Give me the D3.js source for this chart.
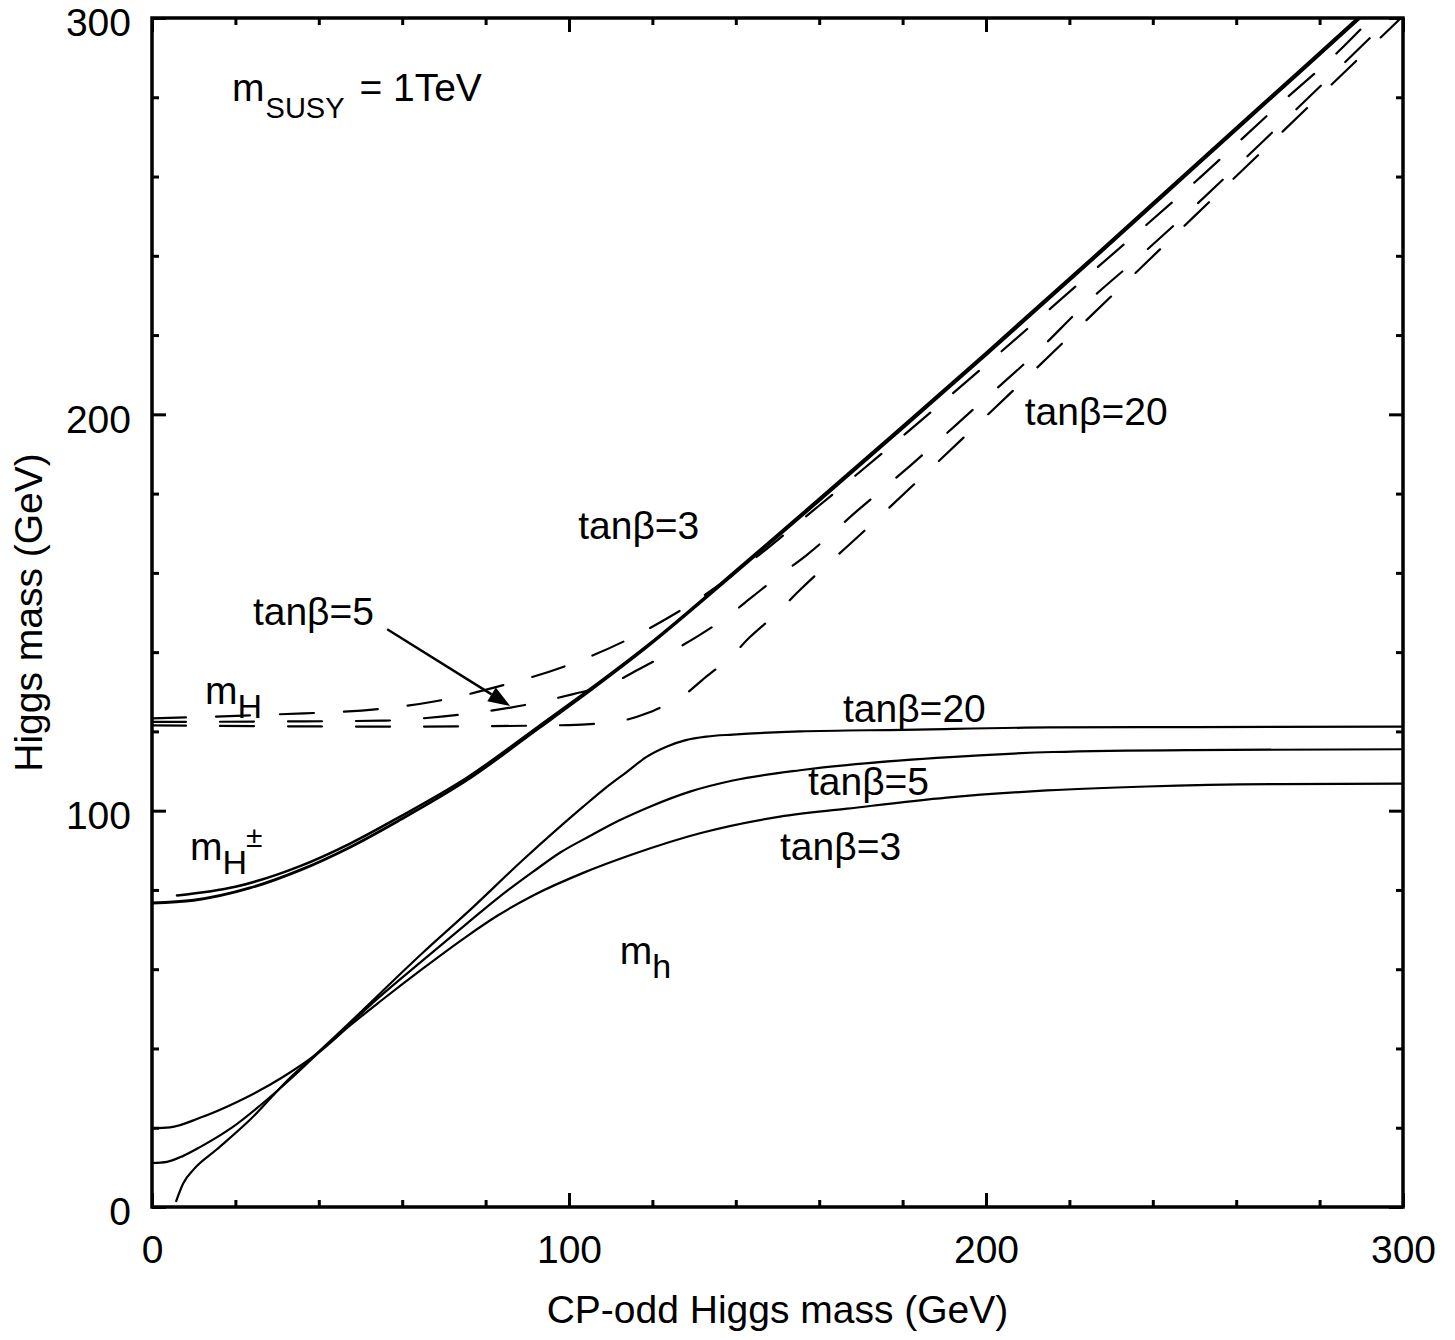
<!DOCTYPE html>
<html><head><meta charset="utf-8">
<script src="https://cdn.jsdelivr.net/npm/d3@7"></script>
<style>
body{margin:0;background:#fff}
text{font-family:"Liberation Sans",Arial,Helvetica,sans-serif;fill:#000}
</style>
</head><body>
<svg id="chart" width="1455" height="1340"></svg>
<script>
// ---------- data ----------
const xMajorTicks = [0, 100, 200, 300];
const yMajorTicks = [0, 100, 200, 300];
const minorTicks  = [20, 40, 60, 80, 120, 140, 160, 180, 220, 240, 260, 280];
const xTickLabels = ["0", "100", "200", "300"];
const yTickLabels = ["0", "100", "200", "300"];

// charged Higgs mass m_H± (solid, heavy) – two nearly coincident lines
const mHpmTan20 = [[0,76.7],[10,77.4],[23.5,80.5],[35.5,85],[47.5,90.8],[59.5,97.7],[75.5,107.7],[93,121],[104.3,129.7],[118.7,141.3],[141.5,161.5],[160,178.2],[180,196.5],[200,215],[225,238.5],[250,262.3],[270,281.3],[290,300.3],[300,310]];
const mHpmTan3  = [[6,78.6],[20,80.8],[35.5,86],[47.5,91.7],[59.5,98.5],[75.5,108.3],[93,121.5],[104.3,130.1],[118.7,141.6],[141.5,161.9],[160,178.7],[180,197],[200,215.5],[225,239],[250,262.8],[270,281.8],[290,300.8],[300,310.5]];

// heavy CP-even m_H (dashed)
const mHTan3  = [[0,123.3],[30,124.3],[55,125.7],[68,127.6],[84,131.6],[100,136.8],[116,144.2],[129,152],[140,160],[160,177],[180,194.5],[200,212.5],[225,235.5],[250,258.5],[271,278.8],[283.7,290.7],[292.5,300]];
const mHTan5  = [[0,122.4],[30,122.5],[55,122.7],[70,123.8],[86,126],[101,129.4],[110,132],[117,135.8],[124,139.8],[131,144.1],[138,149],[144,154],[150,159],[157,164.5],[169.5,176],[182,187.2],[197,201.3],[212.5,216],[224,228],[237,240],[249,251.5],[270,272.5],[297,300]];
const mHTan20 = [[0,121.5],[60,121.2],[100,121.6],[108,122.1],[114,123],[119,124.7],[122.5,126.3],[126,128],[129,130.3],[132,133],[135,135.5],[138,138],[143.4,143.8],[149.4,149.4],[155,155.3],[170,169.8],[200,199.5],[250,250],[300,300.5]];

// light CP-even m_h (solid, thin)
const mhTan20 = [[5.8,1.5],[7.5,6],[10,9.5],[15.5,14.5],[23.5,22],[33,32.5],[40,39.2],[47.5,46.6],[55,54.2],[65,64.2],[75.5,74.2],[89,87.6],[103.4,101],[108.5,105.5],[113.9,109.8],[118.5,113.5],[123.5,116.2],[128,117.8],[133,118.7],[139.3,119.2],[155.4,120],[180,120.4],[215,121],[250,121.1],[300,121.2]];
const mhTan5  = [[0,11.1],[3.6,11.4],[7.5,12.9],[11.5,15.1],[19.4,20.2],[27.5,27],[34.8,33.8],[40,39],[47.5,46.2],[54,52.5],[65,62.3],[75.5,71.5],[83,78],[91.4,84.6],[98,89.5],[105,93.6],[112,97.5],[119.4,101],[129,104.8],[139.3,107.6],[155.4,110.2],[161,110.9],[188.2,113.3],[216,114.8],[249,115.3],[300,115.5]];
const mhTan3  = [[0,19.9],[4.3,20.1],[11.5,22.5],[20.4,26.5],[31.4,32.8],[40,39],[47.5,45.8],[55,52.1],[65,60.2],[75.5,68.3],[83,73.6],[91.4,78.6],[103.4,84.3],[115.3,89],[131.4,94.3],[150.6,98.5],[166.7,100.5],[190.6,103.3],[214.6,105.1],[238.6,106.1],[270.5,106.7],[300,106.8]];

// ---------- layout ----------
const W = 1455, H = 1340;
const M = {left:152, right:52, top:18, bottom:133};
const FONT = 39;

const svg = d3.select("#chart");
const x = d3.scaleLinear().domain([0,300]).range([M.left, W - M.right]);
const y = d3.scaleLinear().domain([0,300]).range([H - M.bottom, M.top]);

svg.append("defs").append("clipPath").attr("id","clip")
  .append("rect").attr("x",x(0)).attr("y",y(300)).attr("width",x(300)-x(0)).attr("height",y(0)-y(300));

// ---------- axes / ticks on all four sides ----------
function styleAxis(g){ g.select(".domain").remove(); g.selectAll("line").attr("stroke","#000").attr("stroke-width",3); }

svg.append("g").attr("transform",`translate(0,${y(0)})`)
  .call(d3.axisBottom(x).tickValues(xMajorTicks).tickSizeInner(-14).tickSizeOuter(0).tickPadding(28)
        .tickFormat((d,i)=>xTickLabels[i]))
  .call(styleAxis)
  .call(g=>g.selectAll("text").attr("font-size",FONT).attr("font-family",null));
svg.append("g").attr("transform",`translate(0,${y(0)})`)
  .call(d3.axisBottom(x).tickValues(minorTicks).tickSizeInner(-7).tickSizeOuter(0).tickFormat(""))
  .call(styleAxis);
svg.append("g").attr("transform",`translate(0,${y(300)})`)
  .call(d3.axisTop(x).tickValues(xMajorTicks).tickSizeInner(-14).tickSizeOuter(0).tickFormat(""))
  .call(styleAxis);
svg.append("g").attr("transform",`translate(0,${y(300)})`)
  .call(d3.axisTop(x).tickValues(minorTicks).tickSizeInner(-7).tickSizeOuter(0).tickFormat(""))
  .call(styleAxis);

svg.append("g").attr("transform",`translate(${x(0)},0)`)
  .call(d3.axisLeft(y).tickValues(yMajorTicks).tickSizeInner(-14).tickSizeOuter(0).tickPadding(21)
        .tickFormat((d,i)=>yTickLabels[i]))
  .call(styleAxis)
  .call(g=>g.selectAll("text").attr("font-size",FONT).attr("font-family",null).attr("dy","0.46em"));
svg.append("g").attr("transform",`translate(${x(0)},0)`)
  .call(d3.axisLeft(y).tickValues(minorTicks).tickSizeInner(-7).tickSizeOuter(0).tickFormat(""))
  .call(styleAxis);
svg.append("g").attr("transform",`translate(${x(300)},0)`)
  .call(d3.axisRight(y).tickValues(yMajorTicks).tickSizeInner(-14).tickSizeOuter(0).tickFormat(""))
  .call(styleAxis);
svg.append("g").attr("transform",`translate(${x(300)},0)`)
  .call(d3.axisRight(y).tickValues(minorTicks).tickSizeInner(-7).tickSizeOuter(0).tickFormat(""))
  .call(styleAxis);

// frame
svg.append("rect").attr("x",x(0)).attr("y",y(300)).attr("width",x(300)-x(0)).attr("height",y(0)-y(300))
  .attr("fill","none").attr("stroke","#000").attr("stroke-width",3.5);

// ---------- curves ----------
const line = d3.line().x(d=>x(d[0])).y(d=>y(d[1])).curve(d3.curveMonotoneX);
const plot = svg.append("g").attr("clip-path","url(#clip)");

const series = [
  {data:mhTan20, w:2.2, dash:null},
  {data:mhTan5,  w:2.2, dash:null},
  {data:mhTan3,  w:2.2, dash:null},
  {data:mHTan20, w:2.2, dash:"34,34"},
  {data:mHTan5,  w:2.2, dash:"34,34"},
  {data:mHTan3,  w:2.2, dash:"34,30"},
  {data:mHpmTan3,  w:2.6, dash:null},
  {data:mHpmTan20, w:2.8, dash:null}
];
plot.selectAll("path.curve").data(series).join("path").attr("class","curve")
  .attr("d",d=>line(d.data)).attr("fill","none").attr("stroke","#000")
  .attr("stroke-width",d=>d.w).attr("stroke-dasharray",d=>d.dash).attr("stroke-linecap","round");

// ---------- arrow ----------
const arrowFrom = [56.4,145.8], arrowTo = [85.9,126.4];
{
  const x1=x(arrowFrom[0]), y1=y(arrowFrom[1]), x2=x(arrowTo[0]), y2=y(arrowTo[1]);
  const ang=Math.atan2(y2-y1,x2-x1), L=22, Wd=8;
  const bx=x2-L*Math.cos(ang), by=y2-L*Math.sin(ang);
  svg.append("line").attr("x1",x1).attr("y1",y1).attr("x2",bx).attr("y2",by)
    .attr("stroke","#000").attr("stroke-width",2.4);
  const p=[[x2,y2],[bx+Wd*Math.sin(ang),by-Wd*Math.cos(ang)],[bx-Wd*Math.sin(ang),by+Wd*Math.cos(ang)]];
  svg.append("path").attr("d","M"+p.map(q=>q.join(",")).join("L")+"Z").attr("fill","#000");
}

// ---------- labels ----------
function label(px, py, parts){
  const t = svg.append("text").attr("x",x(px)).attr("y",y(py)).attr("font-size",FONT);
  parts.forEach(p=>{
    const s=t.append("tspan").text(p.t);
    if(p.fs) s.attr("font-size",p.fs);
    if(p.dy) s.attr("dy",p.dy);
    if(p.dx) s.attr("dx",p.dx);
  });
  return t;
}
label(19.2, 279.0, [{t:"m"},{t:"SUSY",fs:29,dy:17,dx:1},{t:" = 1TeV",dy:-17,dx:4}]);
label(102.2, 168.5, [{t:"tanβ=3"}]);
label(24.2, 146.9, [{t:"tanβ=5"}]);
label(209.3, 197.3, [{t:"tanβ=20"}]);
label(12.7, 126.8, [{t:"m"},{t:"H",fs:34,dy:14}]);
label(165.7, 122.4, [{t:"tanβ=20"}]);
label(157.3, 104.0, [{t:"tanβ=5"}]);
label(150.6, 87.6, [{t:"tanβ=3"}]);
label(9.1, 87.6, [{t:"m"},{t:"H",fs:34,dy:14},{t:"±",fs:30,dy:-27,dx:-1}]);
label(112.2, 61.3, [{t:"m"},{t:"h",fs:34,dy:14}]);

// axis titles
svg.append("text").attr("x",(x(0)+x(300))/2).attr("y",1323).attr("text-anchor","middle")
  .attr("font-size",FONT).text("CP-odd Higgs mass (GeV)");
svg.append("text").attr("transform",`translate(42,${(y(0)+y(300))/2}) rotate(-90)`)
  .attr("text-anchor","middle").attr("font-size",FONT).text("Higgs mass (GeV)");
</script>
</body></html>
